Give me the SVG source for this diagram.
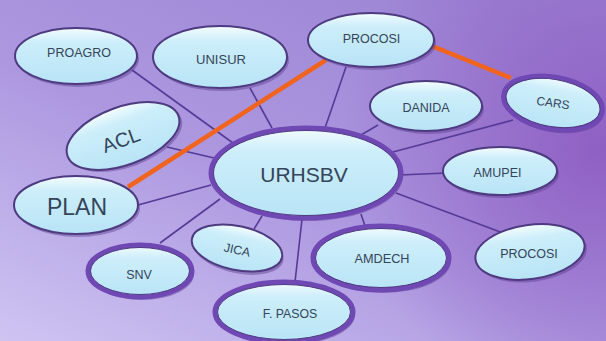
<svg xmlns="http://www.w3.org/2000/svg" width="606" height="341" viewBox="0 0 606 341">
<defs>
<linearGradient id="bg" x1="0" y1="1" x2="0.8" y2="0">
<stop offset="0" stop-color="#cec4f2"/>
<stop offset="0.5" stop-color="#ad98e0"/>
<stop offset="1" stop-color="#9c84d4"/>
</linearGradient>
<radialGradient id="dk" cx="600" cy="150" r="260" gradientUnits="userSpaceOnUse">
<stop offset="0" stop-color="#8c58c0" stop-opacity="0.85"/>
<stop offset="1" stop-color="#8c58c0" stop-opacity="0"/>
</radialGradient>
<linearGradient id="nf" x1="0" y1="0" x2="0" y2="1">
<stop offset="0" stop-color="#f4fcff"/>
<stop offset="0.25" stop-color="#cdeefa"/>
<stop offset="1" stop-color="#b8e4f6"/>
</linearGradient>
<style>
.n{fill:url(#nf);stroke:#4e3a80;stroke-width:2}
.t{fill:url(#nf);stroke:#7048b4;stroke-width:5}
.s{fill:#5a3c8c;opacity:0.45}
.l{stroke:#553a98;stroke-width:1.6;fill:none}
.o{stroke:#f0641e;stroke-width:4.5;fill:none}
text{font-family:"Liberation Sans",Arial,sans-serif;fill:#34445a;text-anchor:middle}
</style>
</defs>
<rect width="606" height="341" fill="url(#bg)"/>
<rect width="606" height="341" fill="url(#dk)"/>
<g id="connectors">
<line class="l" x1="132" y1="70" x2="233" y2="143"/>
<line class="l" x1="250" y1="88" x2="272" y2="128"/>
<line class="l" x1="167" y1="147" x2="214" y2="158"/>
<line class="l" x1="346" y1="67" x2="325" y2="128"/>
<line class="l" x1="378" y1="125" x2="361" y2="135"/>
<line class="l" x1="513" y1="120" x2="393" y2="152"/>
<line class="l" x1="400" y1="175" x2="446" y2="173"/>
<line class="l" x1="396" y1="193" x2="503" y2="233"/>
<line class="l" x1="361" y1="214" x2="365" y2="226"/>
<line class="l" x1="302" y1="219" x2="295" y2="282"/>
<line class="l" x1="262" y1="216" x2="254" y2="229"/>
<line class="l" x1="160" y1="243" x2="220" y2="199"/>
<line class="l" x1="138" y1="205" x2="211" y2="185"/>
<line class="o" x1="128" y1="187" x2="326" y2="60"/>
<line class="o" x1="432" y1="46" x2="511" y2="78"/>
</g>
<g id="proagro"><ellipse class="s" cx="78" cy="59" rx="61" ry="28"/><ellipse class="n" cx="76" cy="56" rx="61" ry="28"/><text x="79" y="57" font-size="12.5">PROAGRO</text></g>
<g id="unisur"><ellipse class="s" cx="222" cy="60" rx="67" ry="31"/><ellipse class="n" cx="220" cy="57" rx="67" ry="31"/><text x="221" y="64" font-size="13">UNISUR</text></g>
<g id="acl"><g transform="rotate(-20 123 136)"><ellipse class="s" cx="125" cy="139" rx="59" ry="29"/><ellipse class="n" cx="123" cy="136" rx="59" ry="29"/></g><text x="121" y="147" font-size="20" transform="rotate(-20 121 140)">ACL</text></g>
<g id="procosi1"><ellipse class="s" cx="373" cy="43" rx="63" ry="27"/><ellipse class="n" cx="371" cy="40" rx="63" ry="27"/><text x="371.5" y="43" font-size="12.5">PROCOSI</text></g>
<g id="cars"><g transform="rotate(10 553 103)"><ellipse class="s" cx="555" cy="106" rx="50" ry="26"/><ellipse class="t" cx="553" cy="103" rx="50" ry="26"/><ellipse fill="none" stroke="#4e3a80" stroke-width="1" cx="553" cy="103" rx="47.5" ry="23.5"/></g><text x="553" y="107" font-size="12" transform="rotate(8 553 103)">CARS</text></g>
<g id="danida"><ellipse class="s" cx="428" cy="109" rx="56" ry="25"/><ellipse class="n" cx="426" cy="106" rx="56" ry="25"/><text x="426" y="112" font-size="12.5">DANIDA</text></g>
<g id="urhsbv"><ellipse class="s" cx="308" cy="176" rx="95" ry="45"/><ellipse class="t" cx="306" cy="173" rx="95" ry="45"/><ellipse fill="none" stroke="#4e3a80" stroke-width="1" cx="306" cy="173" rx="92.5" ry="42.5"/><text x="304" y="182" font-size="21">URHSBV</text></g>
<g id="amupei"><ellipse class="s" cx="502" cy="174" rx="57" ry="24"/><ellipse class="n" cx="500" cy="171" rx="57" ry="24"/><text x="497.5" y="177" font-size="12.5">AMUPEI</text></g>
<g id="plan"><ellipse class="s" cx="78" cy="208" rx="62" ry="29"/><ellipse class="n" cx="76" cy="205" rx="62" ry="29"/><text x="77" y="215" font-size="23">PLAN</text></g>
<g id="snv"><ellipse class="s" cx="142" cy="274" rx="52" ry="26"/><ellipse class="t" cx="140" cy="271" rx="52" ry="26"/><ellipse fill="none" stroke="#4e3a80" stroke-width="1" cx="140" cy="271" rx="49.5" ry="23.5"/><text x="139" y="279" font-size="12.5">SNV</text></g>
<g id="jica"><g transform="rotate(12 237 248)"><ellipse class="s" cx="239" cy="251" rx="46" ry="22"/><ellipse class="n" cx="237" cy="248" rx="46" ry="22"/></g><text x="237" y="254" font-size="12.3" transform="rotate(12 237 250)">JICA</text></g>
<g id="amdech"><ellipse class="s" cx="383" cy="261" rx="68" ry="32"/><ellipse class="t" cx="381" cy="258" rx="68" ry="32"/><ellipse fill="none" stroke="#4e3a80" stroke-width="1" cx="381" cy="258" rx="65.5" ry="29.5"/><text x="382" y="263" font-size="12.7">AMDECH</text></g>
<g id="procosi2"><g transform="rotate(-8 530 252)"><ellipse class="s" cx="532" cy="255" rx="55" ry="27"/><ellipse class="n" cx="530" cy="252" rx="55" ry="27"/></g><text x="529" y="258" font-size="12.5">PROCOSI</text></g>
<g id="fpasos"><ellipse class="s" cx="286" cy="315" rx="69" ry="30"/><ellipse class="t" cx="284" cy="312" rx="69" ry="30"/><ellipse fill="none" stroke="#4e3a80" stroke-width="1" cx="284" cy="312" rx="66.5" ry="27.5"/><text x="290" y="318" font-size="12.3">F. PASOS</text></g>
</svg>
